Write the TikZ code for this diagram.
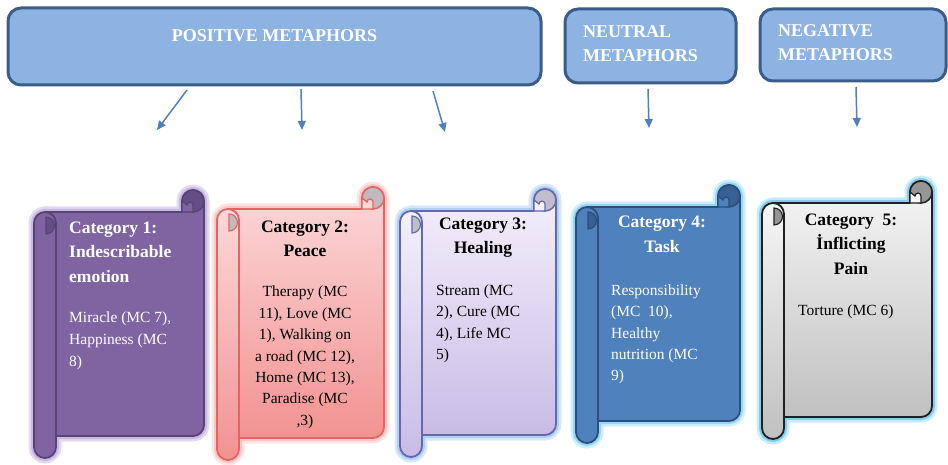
\documentclass[tikz,border=0pt]{standalone}
\usepackage{fontspec}
\setmainfont{Liberation Serif}
\usetikzlibrary{arrows.meta}

\definecolor{hdrfill}{RGB}{141,179,226}
\definecolor{hdrline}{RGB}{58,92,136}
\definecolor{arrowblue}{RGB}{79,129,189}
% purple
\definecolor{puFill}{RGB}{128,100,162}
\definecolor{puLine}{RGB}{88,68,116}
\definecolor{puGlowA}{RGB}{226,216,240}
\definecolor{puGlowB}{RGB}{200,184,226}
\definecolor{puCurl}{RGB}{100,78,132}
% pink
\definecolor{piTop}{RGB}{252,216,216}
\definecolor{piBot}{RGB}{242,146,146}
\definecolor{piLine}{RGB}{228,100,100}
\definecolor{piGlowA}{RGB}{255,228,228}
\definecolor{piGlowB}{RGB}{252,200,200}
\definecolor{piCurl}{RGB}{192,186,190}
% lavender
\definecolor{laTop}{RGB}{244,240,251}
\definecolor{laBot}{RGB}{200,188,230}
\definecolor{laLine}{RGB}{100,104,172}
\definecolor{laGlowA}{RGB}{214,232,250}
\definecolor{laGlowB}{RGB}{176,208,242}
\definecolor{laCurl}{RGB}{192,190,202}
% blue
\definecolor{blFill}{RGB}{79,129,189}
\definecolor{blLine}{RGB}{44,78,124}
\definecolor{blGlowA}{RGB}{206,238,252}
\definecolor{blGlowB}{RGB}{150,214,244}
\definecolor{blCurl}{RGB}{56,96,146}
% grey
\definecolor{grTop}{RGB}{246,246,246}
\definecolor{grBot}{RGB}{192,192,192}
\definecolor{grLine}{RGB}{32,32,32}
\definecolor{grGlowA}{RGB}{200,236,250}
\definecolor{grGlowB}{RGB}{130,206,236}
\definecolor{grCurl}{RGB}{150,150,150}

\tikzset{
  hdrbox/.style={draw=hdrline, fill=hdrfill, line width=3, rounded corners=13,
                 inner sep=0, anchor=north west},
  hdrtext/.style={text=white, font=\fontsize{18}{24}\selectfont\bfseries, inner sep=0},
  conn/.style={draw=arrowblue, line width=1.5, -{Triangle[length=9,width=8]}},
  ttl/.style={font=\fontsize{17.5}{24}\selectfont\bfseries, inner sep=0},
  bdy/.style={font=\fontsize{15.5}{21}\selectfont, inner sep=0},
}

% #1 x0, #2 y0, #3 x1, #4 y1, #5 sheet fill options, #6 line colour,
% #7 outer glow, #8 inner glow, #9 curl colour ; flap colour via \flapcol
\newcommand{\scrollshape}[9]{%
  \foreach \gw/\gc in {11/#7,6/#8}{%
    \draw[draw=\gc, line width=\gw, line join=round]
      ({#1+11},{#2+22}) -- ({#3-22},{#2+22}) -- ({#3-22},{#2+11})
      arc[start angle=180,end angle=360,radius=11] -- (#3,{#4-33})
      arc[start angle=0,end angle=90,radius=11] -- ({#1+11},{#4-22}) -- cycle;
    \draw[draw=\gc, line width=\gw]
      (#1,{#2+33}) -- (#1,{#4-11})
      arc[start angle=180,end angle=0,radius=11] -- ({#1+22},{#2+33})
      arc[start angle=0,end angle=-180,radius=11] -- cycle;
  }
  \draw[#5, draw=#6, line width=1.8, line join=round]
    ({#1+11},{#2+22}) -- ({#3-22},{#2+22}) -- ({#3-22},{#2+11})
    arc[start angle=180,end angle=360,radius=11] -- (#3,{#4-33})
    arc[start angle=0,end angle=90,radius=11] -- ({#1+11},{#4-22}) -- cycle;
  \draw[fill=#9, draw=#6, line width=1.5] ({#3-11},{#2+11}) circle[radius=11];
  \draw[fill=\flapcol, draw=#6, line width=1.2]
    ({#3-22},{#2+11}) -- ({#3-22},{#2+22}) -- ({#3-11},{#2+22}) -- ({#3-11},{#2+15})
    arc[start angle=0,end angle=-180,radius=3] -- cycle;
  \draw[#5, draw=#6, line width=1.8]
    (#1,{#2+33}) -- (#1,{#4-11})
    arc[start angle=180,end angle=0,radius=11] -- ({#1+22},{#2+33})
    arc[start angle=0,end angle=-180,radius=11] -- cycle;
  \draw[fill=#9, draw=#6, line width=1.1]
    ({#1+12},{#2+27}) arc[start angle=-90,end angle=90,radius=8.5] -- cycle;
}

\begin{document}
\begin{tikzpicture}[x=1pt,y=-1pt]
\useasboundingbox (0,0) rectangle (948,465);

% ---------- headers ----------
\node[hdrbox, minimum width=533, minimum height=77] (pos) at (6.5,6.5) {};
\node[hdrbox, minimum width=171, minimum height=74] (neu) at (563.5,7.5) {};
\node[hdrbox, minimum width=186, minimum height=72] (neg) at (758.5,7.5) {};

\node[hdrtext, anchor=base] (posT) at (274.5,42) {POSITIVE METAPHORS};
\node[hdrtext, anchor=base west] (neuT1) at (583,38) {NEUTRAL};
\node[hdrtext, anchor=base west] (neuT2) at (583,62) {METAPHORS};
\node[hdrtext, anchor=base west] (negT1) at (778,37) {NEGATIVE};
\node[hdrtext, anchor=base west] (negT2) at (778,61) {METAPHORS};

% ---------- arrows ----------
\coordinate (a1s) at (187,90);  \coordinate (a1e) at (157,130);
\coordinate (a2s) at (301,89);  \coordinate (a2e) at (302,130);
\coordinate (a3s) at (433,91);  \coordinate (a3e) at (445,132);
\coordinate (a4s) at (648,89);  \coordinate (a4e) at (649,128);
\coordinate (a5s) at (856,87);  \coordinate (a5e) at (857,127);
\draw[conn] (a1s) -- (a1e);
\draw[conn] (a2s) -- (a2e);
\draw[conn] (a3s) -- (a3e);
\draw[conn] (a4s) -- (a4e);
\draw[conn] (a5s) -- (a5e);

% ---------- scrolls ----------
\def\flapcol{puFill}
\scrollshape{34}{190}{204}{458}{fill=puFill}{puLine}{puGlowA}{puGlowB}{puCurl}
\def\flapcol{piTop}
\scrollshape{217}{187}{384}{460}{top color=piTop,bottom color=piBot}{piLine}{piGlowA}{piGlowB}{piCurl}
\def\flapcol{laTop}
\scrollshape{400}{189}{556}{457}{top color=laTop,bottom color=laBot}{laLine}{laGlowA}{laGlowB}{laCurl}
\def\flapcol{blFill}
\scrollshape{576}{185}{740}{443}{fill=blFill}{blLine}{blGlowA}{blGlowB}{blCurl}
\def\flapcol{grTop}
\scrollshape{762}{181}{932}{439}{top color=grTop,bottom color=grBot}{grLine}{grGlowA}{grGlowB}{grCurl}

% ---------- texts: category 1 ----------
\node[ttl, text=white, anchor=base west] (c1a) at (69,234) {Category 1:};
\node[ttl, text=white, anchor=base west] (c1b) at (69,258) {Indescribable};
\node[ttl, text=white, anchor=base west] (c1c) at (69,282) {emotion};
\node[bdy, text=white, anchor=base west] (c1d) at (69,322) {Miracle (MC 7),};
\node[bdy, text=white, anchor=base west] (c1e) at (69,344) {Happiness (MC};
\node[bdy, text=white, anchor=base west] (c1f) at (69,366) {8)};

% ---------- category 2 ----------
\node[ttl, anchor=base] (c2a) at (305,233) {Category 2:};
\node[ttl, anchor=base] (c2b) at (305,257) {Peace};
\node[bdy, anchor=base] (c2c) at (305,296) {Therapy (MC};
\node[bdy, anchor=base] (c2d) at (305,318) {11), Love (MC};
\node[bdy, anchor=base] (c2e) at (305,339) {1), Walking on};
\node[bdy, anchor=base] (c2f) at (305,361) {a road (MC 12),};
\node[bdy, anchor=base] (c2g) at (305,382) {Home (MC 13),};
\node[bdy, anchor=base] (c2h) at (305,403) {Paradise (MC};
\node[bdy, anchor=base] (c2i) at (305,425) {,3)};

% ---------- category 3 ----------
\node[ttl, anchor=base] (c3a) at (483,230) {Category 3:};
\node[ttl, anchor=base] (c3b) at (483,254) {Healing};
\node[bdy, anchor=base west] (c3c) at (436,295) {Stream (MC};
\node[bdy, anchor=base west] (c3d) at (436,316) {2), Cure (MC};
\node[bdy, anchor=base west] (c3e) at (436,338) {4), Life MC};
\node[bdy, anchor=base west] (c3f) at (436,359) {5)};

% ---------- category 4 ----------
\node[ttl, text=white, anchor=base] (c4a) at (662,228) {Category 4:};
\node[ttl, text=white, anchor=base] (c4b) at (662,252) {Task};
\node[bdy, text=white, anchor=base west] (c4c) at (611,295) {Responsibility};
\node[bdy, text=white, anchor=base west] (c4d) at (611,316) {(MC\ \ 10),};
\node[bdy, text=white, anchor=base west] (c4e) at (611,338) {Healthy};
\node[bdy, text=white, anchor=base west] (c4f) at (611,359) {nutrition (MC};
\node[bdy, text=white, anchor=base west] (c4g) at (611,380) {9)};

% ---------- category 5 ----------
\node[ttl, anchor=base] (c5a) at (851,226) {Category\ \ 5:};
\node[ttl, anchor=base] (c5b) at (851,250) {İnflicting};
\node[ttl, anchor=base] (c5c) at (851,275) {Pain};
\node[bdy, anchor=base west] (c5d) at (798,315) {Torture (MC 6)};
\end{tikzpicture}
\end{document}
